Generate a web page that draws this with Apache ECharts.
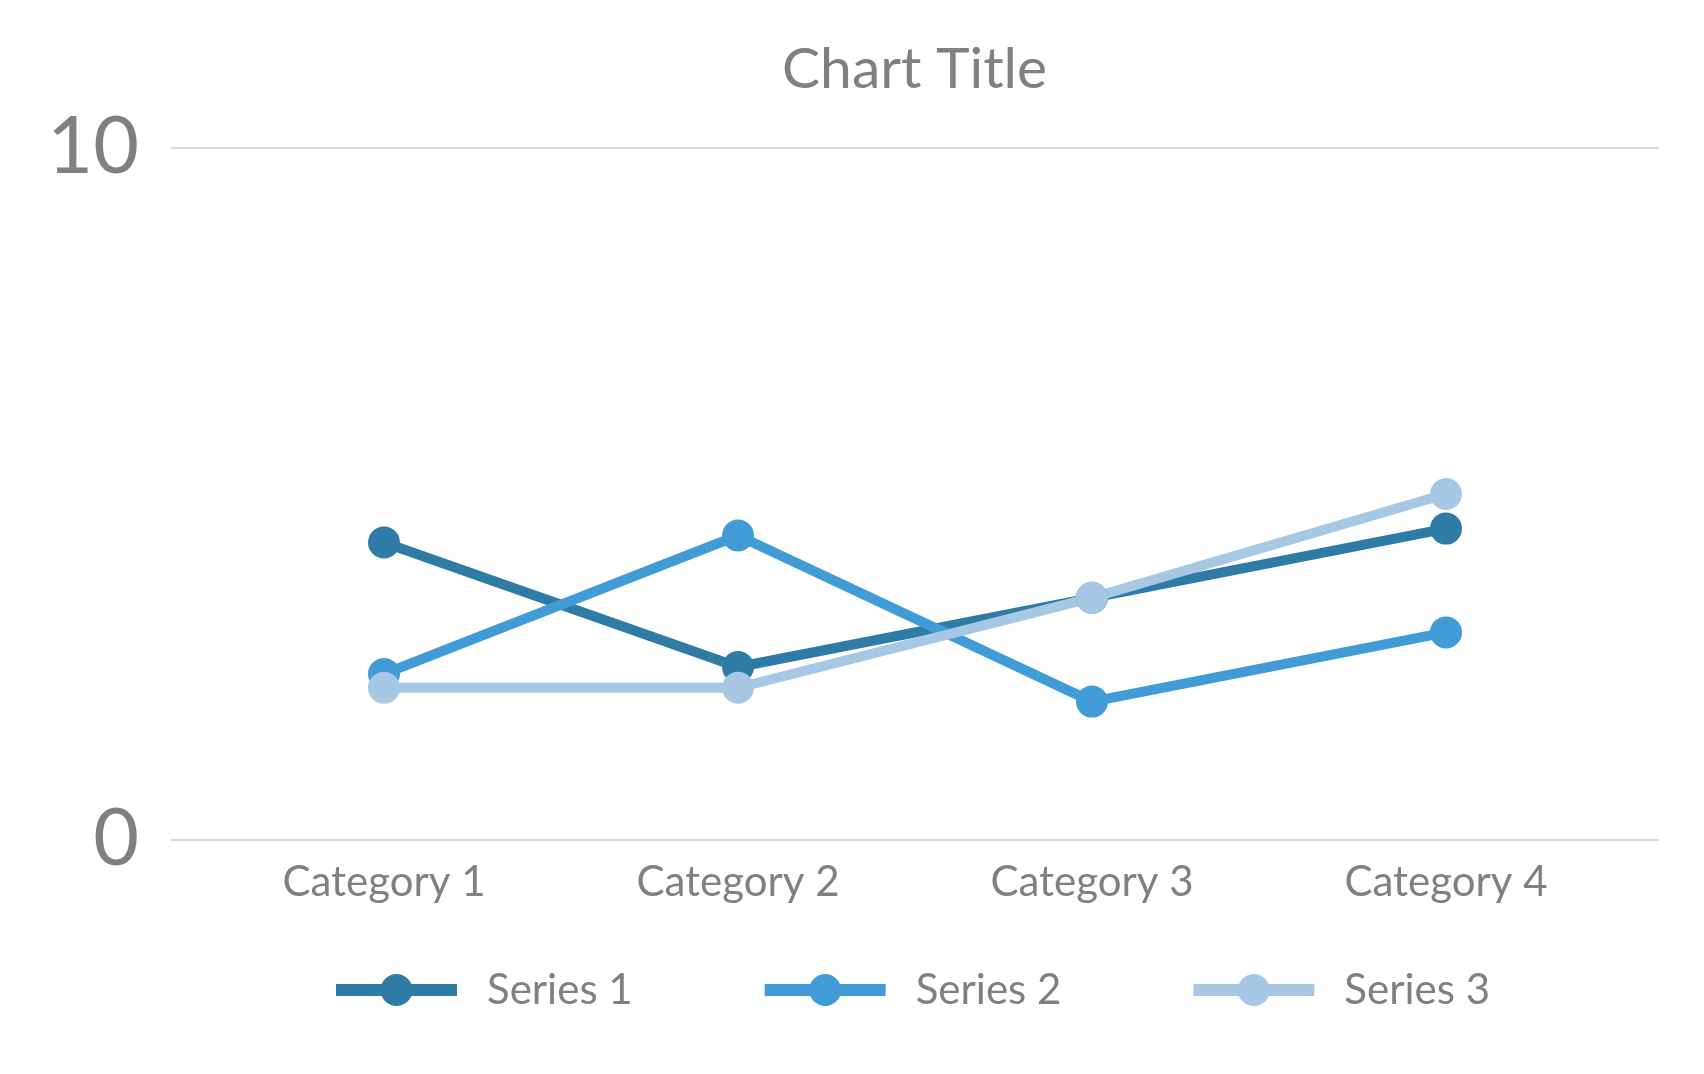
<!DOCTYPE html>
<html>
<head>
<meta charset="utf-8">
<script src="https://cdn.jsdelivr.net/npm/echarts@6/dist/echarts.min.js"></script>
<style>
  html, body { margin: 0; padding: 0; background: #fff; }
  #main { width: 1704px; height: 1074px; }
</style>
</head>
<body>
<div id="main"></div>
<script>
var categories = ['Category 1', 'Category 2', 'Category 3', 'Category 4'];
var seriesNames = ['Series 1', 'Series 2', 'Series 3'];
var series1 = [4.3, 2.5, 3.5, 4.5];
var series2 = [2.4, 4.4, 2.0, 3.0];
var series3 = [2.2, 2.2, 3.5, 5.0];
var colors = ['#2e7ba6', '#409bd6', '#a7c8e4'];

var myChart = echarts.init(document.getElementById('main'));
var font = 'Lato';
var grey = '#808080';

var option = {
    animation: false,
    color: colors,
    title: {
        text: 'Chart Title',
        left: 777,
        top: 36,
        textStyle: { fontFamily: font, fontSize: 57, fontWeight: 'normal', color: grey }
    },
    legend: {
        data: seriesNames,
        left: 325,
        top: 964,
        itemWidth: 121,
        itemHeight: 40,
        itemGap: 126,
        lineStyle: { width: 12 },
        textStyle: { fontFamily: font, fontSize: 42, color: grey, padding: [0, 0, 0, 25] }
    },
    // grid 0 carries the gridlines across the full width, grid 1 holds the lines
    grid: [
        { left: 171, right: 45, top: 148, bottom: 234 },
        { left: 207, right: 81, top: 148, bottom: 234 }
    ],
    xAxis: [
        { type: 'category', gridIndex: 0, data: categories, show: false },
        {
            type: 'category', gridIndex: 1, data: categories,
            axisLine: { show: false }, axisTick: { show: false },
            axisLabel: { fontFamily: font, fontSize: 42, color: grey, margin: 21 }
        }
    ],
    yAxis: [
        {
            type: 'value', gridIndex: 0, min: 0, max: 10, interval: 10,
            axisLine: { show: false }, axisTick: { show: false },
            splitLine: { lineStyle: { color: '#d9d9d9', width: 2 } },
            axisLabel: { fontFamily: font, fontSize: 79, color: grey, margin: 32 }
        },
        {
            type: 'value', gridIndex: 1, min: 0, max: 10, interval: 10,
            show: false, splitLine: { show: false }
        }
    ],
    series: [series1, series2, series3].map(function (vals, i) {
        return {
            name: seriesNames[i],
            type: 'line',
            xAxisIndex: 1,
            yAxisIndex: 1,
            data: vals,
            symbol: 'circle',
            symbolSize: 32,
            lineStyle: { width: 10, color: colors[i] },
            itemStyle: { color: colors[i] }
        };
    })
};

myChart.setOption(option);
window.onresize = myChart.resize;
</script>
</body>
</html>
